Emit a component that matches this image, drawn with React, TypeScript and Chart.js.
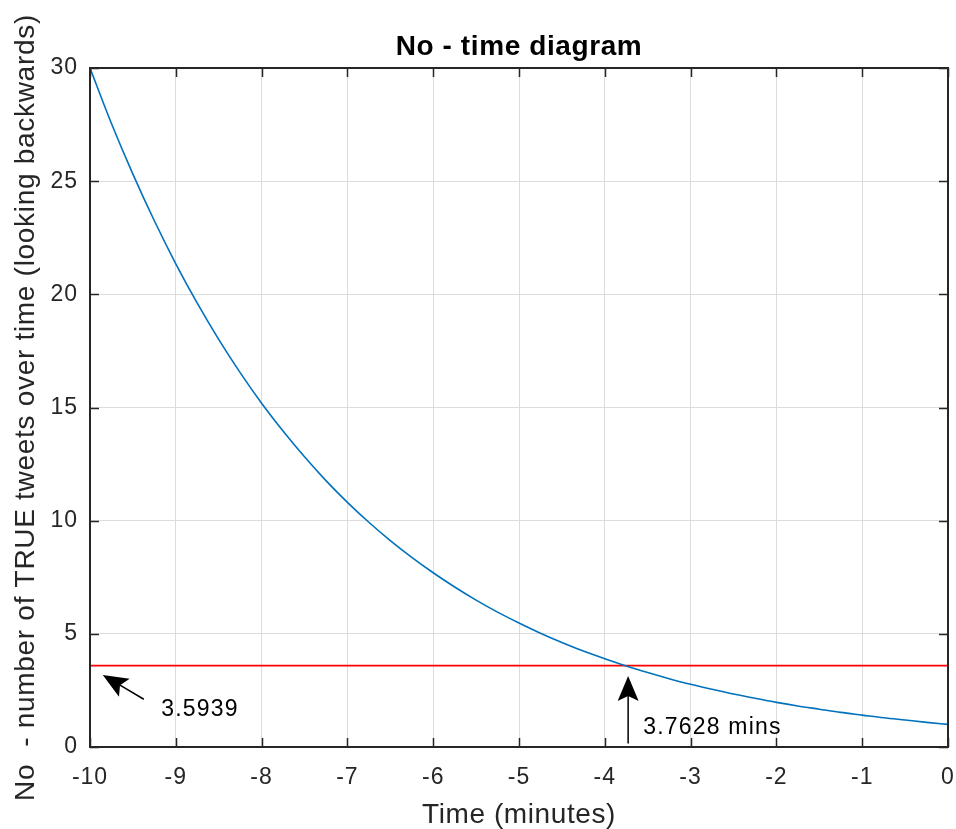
import React, { useEffect, useRef } from "react";
import { Chart, registerables } from "chart.js";

Chart.register(...registerables);

// Time (minutes) and No values
const timeValues = [
  -10, -9.75, -9.5, -9.25, -9, -8.75, -8.5, -8.25, -8, -7.75, -7.5, -7.25, -7, -6.75, -6.5, -6.25,
  -6, -5.75, -5.5, -5.25, -5, -4.75, -4.5, -4.25, -4, -3.75, -3.5, -3.25, -3, -2.75, -2.5, -2.25,
  -2, -1.75, -1.5, -1.25, -1, -0.75, -0.5, -0.25, 0,
];
const noValues = [
  30, 27.55, 25.31, 23.25, 21.35, 19.61, 18.01, 16.54, 15.19, 13.96, 12.82, 11.77, 10.81, 9.93,
  9.12, 8.38, 7.70, 7.07, 6.49, 5.96, 5.48, 5.03, 4.62, 4.24, 3.90, 3.58, 3.29, 3.02, 2.77, 2.55,
  2.34, 2.15, 1.97, 1.81, 1.67, 1.53, 1.41, 1.29, 1.19, 1.09, 1.0,
];

const thresholdValue = 3.5939;
const crossingLabel = "3.7628 mins";
const thresholdLabel = "3.5939";

const chartTitle = "No - time diagram";
const xAxisTitle = "Time (minutes)";
const yAxisTitle = "No  - number of TRUE tweets over time (looking backwards)";

// annotation arrows in data units: [tailX, tailY, tipX, tipY]
const arrowThreshold = [-9.373, 2.11, -9.851, 3.18];
const arrowCrossing = [-3.728, 0.16, -3.728, 3.14];
// annotation text anchors (left, middle) in data units
const thresholdTextPos = [-9.17, 1.63];
const crossingTextPos = [-3.553, 0.84];

const xTickValues = [-10, -9, -8, -7, -6, -5, -4, -3, -2, -1, 0];
const yTickValues = [0, 5, 10, 15, 20, 25, 30];

const FONT = "'Liberation Sans', Arial, Helvetica, sans-serif";
const AXIS_COLOR = "#262626";

function drawArrow(ctx: CanvasRenderingContext2D, x0: number, y0: number, x1: number, y1: number) {
  const dx = x1 - x0;
  const dy = y1 - y0;
  const len = Math.hypot(dx, dy);
  const ux = dx / len;
  const uy = dy / len;
  const px = -uy;
  const py = ux;
  const headLen = 25;
  const notch = 20;
  const halfW = 10.5;
  ctx.save();
  ctx.strokeStyle = "#000";
  ctx.fillStyle = "#000";
  ctx.lineWidth = 1.5;
  ctx.beginPath();
  ctx.moveTo(x0, y0);
  ctx.lineTo(x1 - ux * notch, y1 - uy * notch);
  ctx.stroke();
  ctx.beginPath();
  ctx.moveTo(x1, y1);
  ctx.lineTo(x1 - ux * headLen + px * halfW, y1 - uy * headLen + py * halfW);
  ctx.lineTo(x1 - ux * notch, y1 - uy * notch);
  ctx.lineTo(x1 - ux * headLen - px * halfW, y1 - uy * headLen - py * halfW);
  ctx.closePath();
  ctx.fill();
  ctx.restore();
}

const matlabAxesPlugin = {
  id: "matlabAxes",
  beforeDraw(chart: any) {
    (chart.ctx as any).letterSpacing = "1px";
  },
  afterDraw(chart: any) {
    const ctx = chart.ctx as any;
    const { chartArea } = chart;
    const xs = chart.scales.x;
    const ys = chart.scales.y;
    const { left, right, top, bottom } = chartArea;
    ctx.save();
    // inward ticks
    ctx.strokeStyle = AXIS_COLOR;
    ctx.lineWidth = 1.5;
    const tl = 9;
    ctx.beginPath();
    xTickValues.forEach((v) => {
      const px = Math.round(xs.getPixelForValue(v)) + 0.5;
      ctx.moveTo(px, bottom);
      ctx.lineTo(px, bottom - tl);
      ctx.moveTo(px, top);
      ctx.lineTo(px, top + tl);
    });
    yTickValues.forEach((v) => {
      const py = Math.round(ys.getPixelForValue(v)) + 0.5;
      ctx.moveTo(left, py);
      ctx.lineTo(left + tl, py);
      ctx.moveTo(right, py);
      ctx.lineTo(right - tl, py);
    });
    ctx.stroke();
    // box
    ctx.lineWidth = 2;
    ctx.strokeRect(left, top, right - left, bottom - top);
    ctx.restore();

    // annotations
    drawArrow(
      ctx,
      xs.getPixelForValue(arrowThreshold[0]),
      ys.getPixelForValue(arrowThreshold[1]),
      xs.getPixelForValue(arrowThreshold[2]),
      ys.getPixelForValue(arrowThreshold[3])
    );
    drawArrow(
      ctx,
      xs.getPixelForValue(arrowCrossing[0]),
      ys.getPixelForValue(arrowCrossing[1]),
      xs.getPixelForValue(arrowCrossing[2]),
      ys.getPixelForValue(arrowCrossing[3])
    );
    ctx.save();
    ctx.fillStyle = "#000";
    ctx.letterSpacing = "1.2px";
    ctx.font = `23px ${FONT}`;
    ctx.textAlign = "left";
    ctx.textBaseline = "middle";
    ctx.fillText(thresholdLabel, xs.getPixelForValue(thresholdTextPos[0]), ys.getPixelForValue(thresholdTextPos[1]));
    ctx.fillText(crossingLabel, xs.getPixelForValue(crossingTextPos[0]), ys.getPixelForValue(crossingTextPos[1]));
    ctx.restore();

    // titles
    const cx = (left + right) / 2;
    ctx.save();
    ctx.textAlign = "center";
    ctx.textBaseline = "alphabetic";
    ctx.letterSpacing = "0.6px";
    ctx.fillStyle = "#000";
    ctx.font = `bold 28px ${FONT}`;
    ctx.fillText(chartTitle, cx, 55);
    ctx.fillStyle = AXIS_COLOR;
    ctx.font = `28px ${FONT}`;
    ctx.fillText(xAxisTitle, cx, 823);
    ctx.translate(33.5, (top + bottom) / 2);
    ctx.rotate(-Math.PI / 2);
    ctx.letterSpacing = "0.7px";
    ctx.fillText(yAxisTitle, 0, 0);
    ctx.restore();
    ctx.letterSpacing = "0px";
  },
};

export default function App() {
  const canvasRef = useRef<HTMLCanvasElement | null>(null);

  useEffect(() => {
    document.body.style.margin = "0";
    const canvas = canvasRef.current;
    if (!canvas) return;
    const curve = timeValues.map((t, i) => ({ x: t, y: noValues[i] }));
    const redLine = [
      { x: xTickValues[0], y: thresholdValue },
      { x: xTickValues[xTickValues.length - 1], y: thresholdValue },
    ];
    const chart = new Chart(canvas, {
      type: "line",
      data: {
        datasets: [
          {
            data: curve,
            borderColor: "#0072BD",
            borderWidth: 1.6,
            pointRadius: 0,
            cubicInterpolationMode: "monotone",
          },
          {
            data: redLine,
            borderColor: "#FF0000",
            borderWidth: 1.6,
            pointRadius: 0,
          },
        ],
      },
      options: {
        animation: false,
        responsive: false,
        devicePixelRatio: 1,
        layout: { padding: { left: 0, right: 8, top: 68, bottom: 0 } },
        plugins: {
          legend: { display: false },
          tooltip: { enabled: false },
          title: { display: false },
        },
        scales: {
          x: {
            type: "linear",
            min: -10,
            max: 0,
            afterFit: (s: any) => {
              s.height = 82;
              s.paddingLeft = 0;
              s.paddingRight = 0;
            },
            afterBuildTicks: (s: any) => {
              s.ticks = xTickValues.map((v) => ({ value: v }));
            },
            ticks: {
              color: AXIS_COLOR,
              font: { family: FONT, size: 23 },
              padding: 17,
              maxRotation: 0,
              minRotation: 0,
              autoSkip: false,
            },
            grid: { color: "#dcdcdc", lineWidth: 1, drawTicks: false },
            border: { display: false },
          },
          y: {
            type: "linear",
            min: 0,
            max: 30,
            afterFit: (s: any) => {
              s.width = 90;
              s.paddingTop = 0;
              s.paddingBottom = 0;
            },
            afterBuildTicks: (s: any) => {
              s.ticks = yTickValues.map((v) => ({ value: v }));
            },
            ticks: {
              color: AXIS_COLOR,
              font: { family: FONT, size: 23 },
              padding: 12,
              autoSkip: false,
            },
            grid: { color: "#dcdcdc", lineWidth: 1, drawTicks: false },
            border: { display: false },
          },
        },
      },
      plugins: [matlabAxesPlugin],
    });
    return () => chart.destroy();
  }, []);

  return (
    <div style={{ position: "absolute", left: 0, top: 0, width: 956, height: 829, background: "#fff" }}>
      <canvas ref={canvasRef} width={956} height={829} style={{ display: "block" }} />
    </div>
  );
}
